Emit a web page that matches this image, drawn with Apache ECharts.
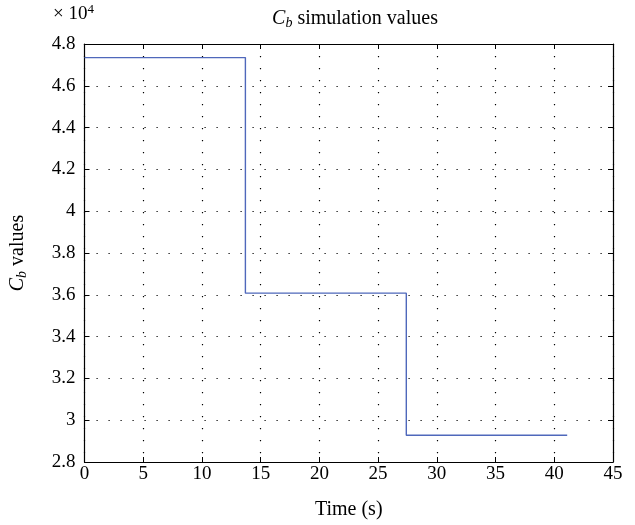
<!DOCTYPE html>
<html>
<head>
<meta charset="utf-8">
<script src="https://cdn.jsdelivr.net/npm/echarts@6/dist/echarts.min.js"></script>
<style>
  html, body { margin: 0; padding: 0; background: #fff; }
  #chart { width: 635px; height: 525px; }
</style>
</head>
<body>
<div id="chart"></div>
<script>
// Switching instants (s) and the C_b level held between them
var switchTimes = [0, 13.7, 27.4, 41.1];
var cbLevels = [47350, 36080, 29280];

var xTicks = [0, 5, 10, 15, 20, 25, 30, 35, 40, 45];
var yTicks = [2.8, 3, 3.2, 3.4, 3.6, 3.8, 4, 4.2, 4.4, 4.6, 4.8];

// piecewise-constant signal: each level held until the next switch
var stepData = [];
for (var i = 0; i < cbLevels.length; i++) {
  stepData.push([switchTimes[i], cbLevels[i]]);
}
stepData.push([switchTimes[switchTimes.length - 1], cbLevels[cbLevels.length - 1]]);

var FONT = 'Liberation Serif';
var FS = 19;   // tick labels
var FN = 20;   // title and axis names
var chart = echarts.init(document.getElementById('chart'), null, { renderer: 'canvas' });

var tickStyle = { show: true, inside: true, length: 5, lineStyle: { color: '#000', width: 1 } };
var lineStyle = { show: true, onZero: false, lineStyle: { color: '#000', width: 1.2 } };
var gridLine = { show: true, lineStyle: { color: '#000', type: [1.2, 10.8], width: 1.2 } };

var richCb = {
  i: { fontFamily: FONT, fontStyle: 'italic', fontSize: FN, color: '#000' },
  sub: { fontFamily: FONT, fontStyle: 'italic', fontSize: 14, color: '#000', verticalAlign: 'bottom', padding: [9, 0, 0, 0] },
  n: { fontFamily: FONT, fontSize: FN, color: '#000' }
};

var yMin = yTicks[0] * 1e4, yMax = yTicks[yTicks.length - 1] * 1e4;
var xMin = xTicks[0], xMax = xTicks[xTicks.length - 1];

chart.setOption({
  animation: false,
  backgroundColor: '#fff',
  grid: { left: 83, right: 22, top: 44, bottom: 63, containLabel: false },
  title: {
    text: '{i|C}{sub|b}{n| simulation values}',
    left: 350, top: 2, textAlign: 'center',
    textStyle: { fontWeight: 'normal', rich: richCb }
  },
  graphic: [
    {
      type: 'text', left: 53, top: 3,
      style: {
        text: '× 10{sup|4}',
        rich: { sup: { fontFamily: FONT, fontSize: 13, verticalAlign: 'top', padding: [0, 0, 9, 0] } },
        font: FS + 'px "Liberation Serif"', fill: '#000'
      }
    }
  ],
  xAxis: [
    {
      type: 'value', min: xMin, max: xMax, interval: 5,
      name: 'Time (s)', nameLocation: 'middle', nameGap: 38,
      nameTextStyle: { fontFamily: FONT, fontSize: FN, color: '#000' },
      axisLine: lineStyle, axisTick: tickStyle,
      axisLabel: { fontFamily: FONT, fontSize: FS, color: '#000', margin: 3 },
      splitLine: gridLine
    },
    {
      type: 'value', position: 'top', min: xMin, max: xMax, interval: 5,
      axisLine: lineStyle, axisTick: tickStyle, axisLabel: { show: false }, splitLine: { show: false }
    }
  ],
  yAxis: [
    {
      type: 'value', min: yMin, max: yMax, interval: 2000,
      name: '{i|C}{sub|b}{n| values}', nameLocation: 'middle', nameGap: 55, nameRotate: 90,
      nameTextStyle: { rich: richCb },
      axisLine: lineStyle, axisTick: tickStyle,
      axisLabel: {
        fontFamily: FONT, fontSize: FS, color: '#000', margin: 9,
        formatter: function (v) { return String(Math.round(v / 1e4 * 10) / 10); }
      },
      splitLine: gridLine
    },
    {
      type: 'value', position: 'right', min: yMin, max: yMax, interval: 2000,
      axisLine: lineStyle, axisTick: tickStyle, axisLabel: { show: false }, splitLine: { show: false }
    }
  ],
  series: [
    {
      type: 'line', step: 'end', data: stepData, showSymbol: false,
      lineStyle: { color: '#4f68bb', width: 1.4 }
    }
  ]
});
</script>
</body>
</html>
